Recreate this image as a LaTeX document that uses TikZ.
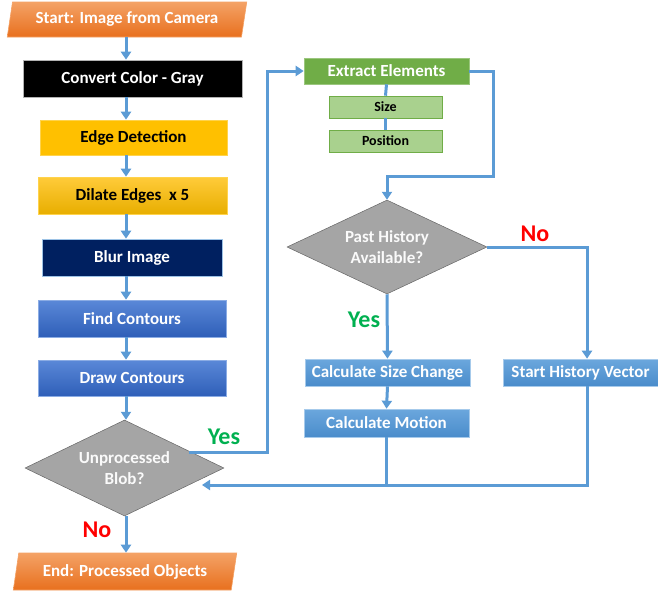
\documentclass[tikz,border=0pt]{standalone}
\usepackage{fontspec}
\setmainfont{Carlito}
\usetikzlibrary{shapes.geometric,arrows.meta,calc}
\definecolor{lineblue}{HTML}{5B9BD5}
\definecolor{orangeT}{HTML}{F4A266}
\definecolor{orangeB}{HTML}{E8701E}
\definecolor{goldA}{HTML}{FFC000}
\definecolor{goldT}{HTML}{FFCB3A}
\definecolor{goldB}{HTML}{E8AE00}
\definecolor{navy}{HTML}{002060}
\definecolor{blueT}{HTML}{5A88D8}
\definecolor{blueB}{HTML}{2F5FB8}
\definecolor{greenA}{HTML}{70AD47}
\definecolor{greenL}{HTML}{A9D18E}
\definecolor{skyT}{HTML}{6BA7DD}
\definecolor{skyB}{HTML}{4A8CCB}
\definecolor{grayD}{HTML}{A5A5A5}
\definecolor{yesgreen}{HTML}{00B050}
\definecolor{nored}{HTML}{FF0000}
\tikzset{
  basebox/.style={rectangle, inner sep=0pt, font=\fontsize{17}{17}\selectfont\bfseries, line width=0.6pt},
  term/.style={trapezium, trapezium left angle=74, trapezium right angle=106, trapezium stretches=true, inner sep=0pt,
    top color=orangeT, bottom color=orangeB, draw=orangeT, line width=0.6pt, text=white, font=\fontsize{17}{17}\selectfont\bfseries},
  decision/.style={diamond, inner sep=0pt, fill=grayD, draw=gray!80!black, line width=0.5pt},
  dtext/.style={text=white!96!gray, font=\fontsize{17}{21}\selectfont\bfseries, align=center, inner sep=0pt},
  smallbox/.style={basebox, fill=greenL, draw=greenA, text=black, minimum width=113, minimum height=22, font=\fontsize{14}{14}\selectfont\bfseries},
  ln/.style={draw=lineblue, line width=3pt},
  arr/.style={ln, -{Triangle[width=10pt,length=8pt]}},
  lbl/.style={font=\fontsize{24}{24}\selectfont\bfseries, inner sep=0pt}
}
\begin{document}
\begin{tikzpicture}[x=1pt,y=-1pt]
\useasboundingbox (0,0) rectangle (658,592);
\coordinate (sp) at (126,0);
\coordinate (ycol) at (267,0);
\coordinate (ec) at (493,176);
\coordinate (nx) at (587,0);
\coordinate (yesout) at (189,452);
\coordinate (retend) at (202,485);
\coordinate (retY) at (0,485);

% left column
\node[term, minimum width=240, minimum height=35] (start) at (127,19.5) {Start: Image from Camera};
\node[basebox, fill=black, draw=gray!60, text=white, minimum width=219, minimum height=37] (gray) at (132.5,78.5) {Convert Color - Gray};
\node[basebox, fill=goldA, draw=goldA!70!white, text=black, minimum width=187, minimum height=35] (edge) at (133.5,137.5) {Edge Detection};
\node[basebox, top color=goldT, bottom color=goldB, draw=goldA!70!white, text=black, minimum width=189, minimum height=37] (dilate) at (132.5,195.5) {Dilate Edges\ \ x 5};
\node[basebox, fill=navy, draw=lineblue!60, text=white, minimum width=180, minimum height=37] (blur) at (132,257.5) {Blur Image};
\node[basebox, top color=blueT, bottom color=blueB, draw=blueT!70!white, text=white, minimum width=188, minimum height=37] (find) at (132,318.5) {Find Contours};
\node[basebox, top color=blueT, bottom color=blueB, draw=blueT!70!white, text=white, minimum width=188, minimum height=36] (drawc) at (132,378) {Draw Contours};
\node[decision, minimum width=199, minimum height=96] (blob) at (124.5,468) {};
\node[dtext] (blobtext) at (blob.center) {Unprocessed\\Blob?};
\node[term, minimum width=224, minimum height=37] (endn) at (125,571.5) {End: Processed Objects};

% right part
\node[basebox, fill=greenA, draw=greenA!70!white, text=white, minimum width=165, minimum height=26] (extract) at (386.5,71) {Extract Elements};
\node[smallbox] (size) at (385.5,107) {Size};
\node[smallbox] (pos) at (385.5,141) {Position};
\node[decision, minimum width=200, minimum height=94] (hist) at (387,247) {};
\node[dtext] (histtext) at (hist.center) {Past History\\Available?};
\node[basebox, top color=skyT, bottom color=skyB, draw=skyT!60!white, text=white, minimum width=165, minimum height=27] (chg) at (387.5,372.5) {Calculate Size Change};
\node[basebox, top color=skyT, bottom color=skyB, draw=skyT!60!white, text=white, minimum width=165, minimum height=28] (mot) at (386.5,423) {Calculate Motion};
\node[basebox, top color=skyT, bottom color=skyB, draw=skyT!60!white, text=white, minimum width=155, minimum height=27] (vec) at (580.5,372.5) {Start History Vector};

% left column arrows
\draw[arr] (sp |- start.south) -- (sp |- gray.north);
\draw[arr] (sp |- gray.south) -- (sp |- edge.north);
\draw[arr] (sp |- edge.south) -- (sp |- dilate.north);
\draw[arr] (sp |- dilate.south) -- (sp |- blur.north);
\draw[arr] (sp |- blur.south) -- (sp |- find.north);
\draw[arr] (sp |- find.south) -- (sp |- drawc.north);
\draw[arr] (sp |- drawc.south) -- (sp |- blob.north);
\draw[arr] (sp |- blob.south) -- (sp |- endn.north);

% yes loop
\draw[arr] (yesout) -- (yesout -| ycol) |- (extract.west);
\draw[ln] (extract.south) -- (size.north);
\draw[ln] (size.south) -- (pos.north);
\draw[arr] (extract.east) -| (ec) -| (hist.north);
\draw[arr] (hist.east) -| (nx |- vec.north);
\draw[arr] (hist.south) -- (chg.north);
\draw[arr] (chg.south) -- (mot.north);
\draw[ln] (mot.south) -- (mot.south |- retY);
\draw[arr] (nx |- vec.south) |- (retend);

% labels
\node[lbl, text=yesgreen] (l1) at (224,437) {Yes};
\node[lbl, text=nored] (l2) at (97,530) {No};
\node[lbl, text=nored] (l3) at (535,234) {No};
\node[lbl, text=yesgreen] (l4) at (364,320) {Yes};
\end{tikzpicture}
\end{document}
